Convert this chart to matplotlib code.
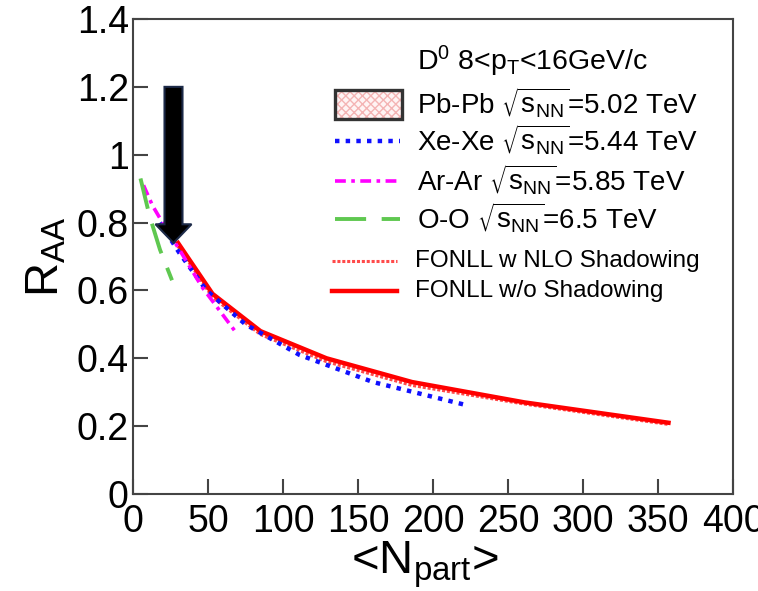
import matplotlib
matplotlib.use("Agg")
import matplotlib.pyplot as plt
from matplotlib.patches import Rectangle, FancyArrow
from matplotlib.lines import Line2D

plt.rcParams['font.family'] = ['Liberation Sans', 'DejaVu Sans']
plt.rcParams['mathtext.default'] = 'regular'

# FONLL w/o shadowing (Pb-Pb centrality classes)
npart_pb = [30, 53, 85, 129, 186, 261, 357]
raa_pb = [0.74, 0.59, 0.48, 0.40, 0.33, 0.27, 0.21]
# FONLL with NLO shadowing (slightly below)
raa_pb_shad = [0.73, 0.58, 0.47, 0.39, 0.32, 0.265, 0.205]

# Xe-Xe
npart_xe = [18, 31, 49, 75, 111, 160, 224]
raa_xe = [0.80, 0.71, 0.60, 0.50, 0.41, 0.33, 0.26]

# Ar-Ar
npart_ar = [7, 13, 21, 31, 46, 68]
raa_ar = [0.91, 0.85, 0.79, 0.72, 0.61, 0.48]

# O-O
npart_oo = [5, 11, 18, 26]
raa_oo = [0.93, 0.82, 0.72, 0.63]

xticks = [0, 50, 100, 150, 200, 250, 300, 350, 400]
yticks = [0, 0.2, 0.4, 0.6, 0.8, 1.0, 1.2, 1.4]
ytick_labels = ['0', '0.2', '0.4', '0.6', '0.8', '1', '1.2', '1.4']

# arrow: x, top, tip
arrow_x = 27
arrow_top = 1.2
arrow_tip = 0.74

# line styles
st_shad = dict(color='#ff4a4a', lw=2.2, ls=(0, (1, 0.6)))
st_fonll = dict(color='#ff0000', lw=3.2)
st_xe = dict(color='#1010ff', lw=3.2, ls=(0, (1, 1.4)))
st_ar = dict(color='#ff00ff', lw=2.6, ls=(0, (3, 1.5, 1, 1.5)))
st_oo = dict(color='#5fc850', lw=2.8, ls=(0, (8, 4)))

fig = plt.figure(figsize=(7.58, 5.91), dpi=100)
ax = fig.add_axes([133 / 758, 97 / 591, 600 / 758, 475 / 591])

ax.plot(npart_pb, raa_pb_shad, **st_shad)
ax.plot(npart_pb, raa_pb, **st_fonll)
ax.plot(npart_xe, raa_xe, **st_xe)
ax.plot(npart_ar, raa_ar, **st_ar)
ax.plot(npart_oo, raa_oo, **st_oo)

arr = FancyArrow(arrow_x, arrow_top, 0, arrow_tip - arrow_top, width=12,
                 head_width=24, head_length=0.055, length_includes_head=True,
                 facecolor='black', edgecolor='#1c2a48', lw=1.5, zorder=5)
ax.add_patch(arr)

ax.set_xlim(0, 400)
ax.set_ylim(0, 1.4)
ax.set_xticks(xticks)
ax.set_yticks(yticks)
ax.set_yticklabels(ytick_labels)
ax.tick_params(direction='in', length=11, width=1.5, color='#444444',
               labelsize=27)
ax.tick_params(axis='x', pad=7)
ax.tick_params(axis='y', pad=3)
for s in ax.spines.values():
    s.set_color('#444444')
    s.set_linewidth(1.5)

ax.set_ylabel('R$_{AA}$', fontsize=34)
ax.yaxis.set_label_coords(-0.108, 0.50)
ax.set_xlabel('<N$_{part}$>', fontsize=34)
ax.xaxis.set_label_coords(0.487, -0.095)

# legend, drawn by hand to match the spacing
tx = 0.473
ax.text(tx, 0.891, 'D$^0$ 8<p$_T$<16GeV/c', transform=ax.transAxes,
        fontsize=20.5, va='baseline')

# Pb-Pb box: pink hatch + dark frame
ax.add_patch(Rectangle((0.337, 0.789), 0.111, 0.062, transform=ax.transAxes,
                       facecolor='#fff4f4', edgecolor='#f4b4b4', lw=0,
                       hatch='xxxx', clip_on=False))
ax.add_patch(Rectangle((0.337, 0.789), 0.111, 0.062, transform=ax.transAxes,
                       facecolor='none', edgecolor='#333333', lw=2.4,
                       clip_on=False))

rows = [
    (0.802, 'Pb-Pb $\\sqrt{s_{NN}}$=5.02 TeV', None),
    (0.724, 'Xe-Xe $\\sqrt{s_{NN}}$=5.44 TeV', st_xe),
    (0.640, 'Ar-Ar $\\sqrt{s_{NN}}$=5.85 TeV', st_ar),
    (0.560, 'O-O $\\sqrt{s_{NN}}$=6.5 TeV', st_oo),
]
for yb, label, style in rows:
    ax.text(tx, yb, label, transform=ax.transAxes, fontsize=20, va='baseline')
    if style is not None:
        ax.add_line(Line2D([0.337, 0.445], [yb + 0.019, yb + 0.019],
                           transform=ax.transAxes, clip_on=False, **style))

small_rows = [
    (0.478, 'FONLL w NLO Shadowing', st_shad),
    (0.415, 'FONLL w/o Shadowing', st_fonll),
]
for yb, label, style in small_rows:
    ax.text(0.470, yb, label, transform=ax.transAxes, fontsize=17.5, va='baseline')
    ax.add_line(Line2D([0.332, 0.44], [yb + 0.013, yb + 0.013],
                       transform=ax.transAxes, clip_on=False, **style))

fig.savefig('out.png', dpi=100)
